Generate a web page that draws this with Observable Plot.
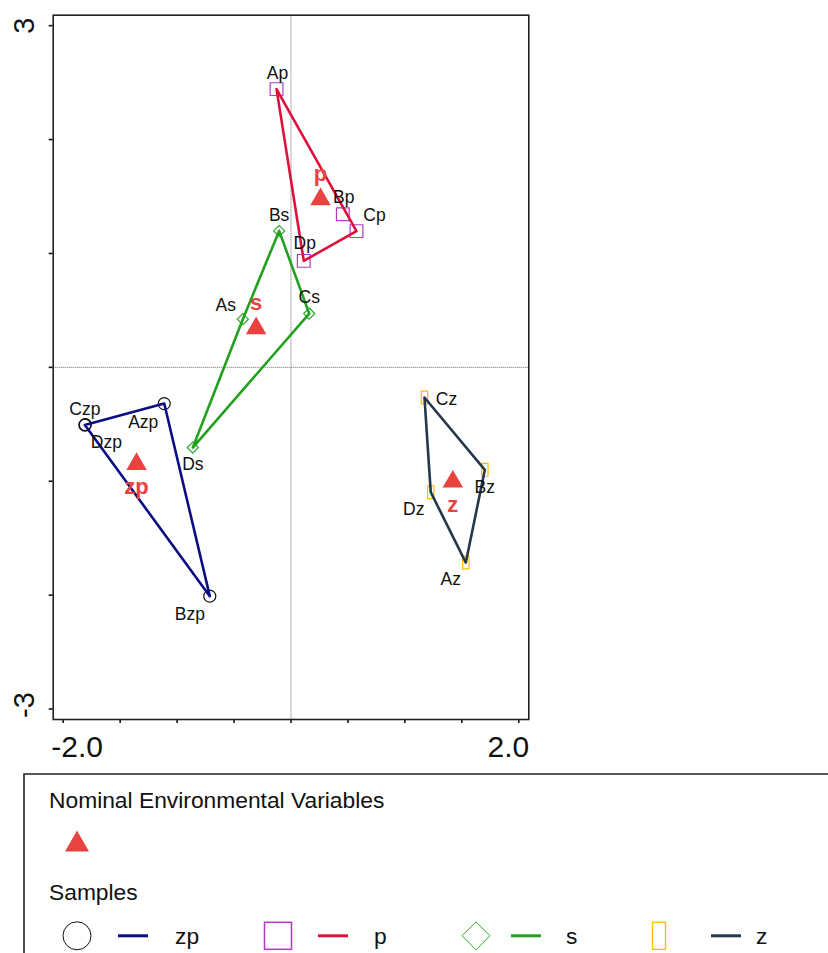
<!DOCTYPE html>
<html>
<head>
<meta charset="utf-8">
<script src="https://cdn.jsdelivr.net/npm/d3@7"></script>
<script src="https://cdn.jsdelivr.net/npm/@observablehq/plot@0.6"></script>
<style>
  html, body { margin: 0; padding: 0; background: #fff; overflow: hidden; }
  #chart svg { display: block; }
  #chart svg g[aria-label*="axis"] path, #chart svg g[aria-label*="axis"] line { stroke-width: 1.6px; }
</style>
</head>
<body>
<div id="chart"></div>
<script>
// ---------------- DATA ----------------
const sampleNames  = ["Azp", "Bzp", "Czp", "Dzp", "Ap", "Bp", "Cp", "Dp", "As", "Bs", "Cs", "Ds", "Az", "Bz", "Cz", "Dz"];
const sampleGroups = ["zp", "zp", "zp", "zp", "p", "p", "p", "p", "s", "s", "s", "s", "z", "z", "z", "z"];
const sampleX = [-1.113, -0.713, -1.810, -1.806, -0.127, 0.455, 0.575, 0.112, -0.423, -0.104, 0.160, -0.862, 1.535, 1.702, 1.172, 1.227];
const sampleY = [-0.318, -2.009, -0.507, -0.503, 2.443, 1.345, 1.196, 0.935, 0.423, 1.198, 0.472, -0.704, -1.714, -0.900, -0.265, -1.096];

// Nominal environmental variables (group centroids)
const groupNames = ["zp", "p", "s", "z"];
const groupX = [-1.356, 0.259, -0.306, 1.421];
const groupY = [-0.849, 1.475, 0.342, -1.004];

// Envelope (hull) connection order per group
const hullOrder = {
  zp: ["Czp", "Azp", "Bzp", "Czp"],
  p:  ["Ap", "Cp", "Dp", "Ap"],
  s:  ["Bs", "Cs", "Ds", "As", "Bs"],
  z:  ["Cz", "Bz", "Az", "Dz", "Cz"]
};

// Axis ticks and labels
const xTicks = [-2, -1.5, -1, -0.5, 0, 0.5, 1, 1.5, 2];
const yTicks = [-3, -2, -1, 0, 1, 2, 3];
const xTickLabelLeft = [-2], xTickLabelRight = [2];
const yTickLabelTop = [3], yTickLabelBottom = [-3];

// Legend texts
const legendTitle1 = "Nominal Environmental Variables";
const legendTitle2 = "Samples";

// ---------------- STYLE ----------------
const FONT = "Arial, 'Liberation Sans', Helvetica, sans-serif";
const RED = "#e8433f";
const tallRect = { draw(ctx, size) { const h = Math.sqrt(size); const w = h * 0.5; ctx.rect(-w / 2, -h / 2, w, h); } };
const groupStyle = {
  zp: { marker: "circle",   r: 6,   markerStroke: "#111111", line: "#0c0c85" },
  p:  { marker: "square",   r: 7.2, markerStroke: "#b23ac4", line: "#e0103c" },
  s:  { marker: "diamond2", r: 5,   markerStroke: "#28a828", line: "#22a11e" },
  z:  { marker: tallRect,   r: 7.2, markerStroke: "#ffbc00", line: "#25384b" }
};
// label offsets (px) relative to each sample point
const labelOffset = {
  Ap: [1, -16], Bp: [1, -17], Cp: [18, -16], Dp: [1, -17],
  As: [-17, -14], Bs: [0, -16], Cs: [0, -16], Ds: [0, 17],
  Azp: [-21, 19], Bzp: [-20, 18], Czp: [0, -16], Dzp: [21, 18],
  Az: [-15, 17], Bz: [0, 18], Cz: [22, 2], Dz: [-17, 17]
};

// ---------------- BUILD ----------------
const samples = sampleNames.map((n, i) => ({ name: n, group: sampleGroups[i], x: sampleX[i], y: sampleY[i] }));
const byName = new Map(samples.map(d => [d.name, d]));
const groupsData = groupNames.map((g, i) => ({ group: g, x: groupX[i], y: groupY[i] }));

const W = 828, H = 770;
const marks = [
  Plot.ruleX([0], { stroke: "#666", strokeWidth: 1, strokeDasharray: "1,1" }),
  Plot.ruleY([0], { stroke: "#666", strokeWidth: 1, strokeDasharray: "1,1" }),
  Plot.frame({ stroke: "#222", strokeWidth: 1.6 })
];
for (const g of groupNames) {
  const st = groupStyle[g];
  marks.push(Plot.dot(samples.filter(d => d.group === g), {
    x: "x", y: "y", r: st.r, symbol: st.marker, fill: "none", stroke: st.markerStroke, strokeWidth: 1.2
  }));
}
for (const g of groupNames) {
  const st = groupStyle[g];
  marks.push(Plot.line(hullOrder[g].map(n => byName.get(n)), {
    x: "x", y: "y", stroke: st.line, strokeWidth: 2.6, strokeLinejoin: "round"
  }));
}
for (const d of samples) {
  const [dx, dy] = labelOffset[d.name];
  marks.push(Plot.text([d], { x: "x", y: "y", text: "name", dx, dy, fontSize: 17.5, fill: "#111" }));
}
marks.push(Plot.dot(groupsData, { x: "x", y: "y", symbol: "triangle", r: 7.6, fill: RED, stroke: "none" }));
marks.push(Plot.text(groupsData.filter(d => d.group === "p" || d.group === "s"), {
  x: "x", y: "y", text: "group", dy: -25, fontSize: 22, fontWeight: "bold", fill: RED
}));
marks.push(Plot.text(groupsData.filter(d => d.group === "zp" || d.group === "z"), {
  x: "x", y: "y", text: "group", dy: 23, fontSize: 22, fontWeight: "bold", fill: RED
}));
// axis end labels
marks.push(Plot.text(xTickLabelLeft, { x: d => d, frameAnchor: "bottom", text: d => d.toFixed(1), textAnchor: "start", lineAnchor: "bottom", dx: -12, dy: 37.7, fontSize: 30, fill: "#111" }));
marks.push(Plot.text(xTickLabelRight, { x: d => d, frameAnchor: "bottom", text: d => d.toFixed(1), textAnchor: "end", lineAnchor: "bottom", dx: 10.5, dy: 37.7, fontSize: 30, fill: "#111" }));
marks.push(Plot.text(yTickLabelTop, { y: d => d, frameAnchor: "left", text: d => String(d), rotate: -90, textAnchor: "middle", lineAnchor: "bottom", dx: -19.4, dy: 0, fontSize: 29, fill: "#111" }));
marks.push(Plot.text(yTickLabelBottom, { y: d => d, frameAnchor: "left", text: d => String(d), rotate: -90, textAnchor: "middle", lineAnchor: "bottom", dx: -19.4, dy: -4, fontSize: 29, fill: "#111" }));

const chart = Plot.plot({
  width: W, height: H,
  marginLeft: 52.7, marginRight: W - 528.3, marginTop: 14.7, marginBottom: H - 719,
  style: { fontFamily: FONT, fontSize: "16px", color: "#111", background: "#fff" },
  x: { domain: [-2.088, 2.088], ticks: xTicks, tickSize: 4, tickFormat: () => "", label: null },
  y: { domain: [-3.092, 3.092], ticks: yTicks, tickSize: 4, tickFormat: () => "", label: null },
  marks
});
document.getElementById("chart").appendChild(chart);

// ---------------- LEGEND ----------------
const LH = 953 - H;
const off = H; // legend svg starts at page y = 770
const lg = d3.create("svg").attr("width", W).attr("height", LH).style("display", "block")
  .style("font-family", FONT);
lg.append("path").attr("d", `M24,${LH + 5} L24,${774 - off} L${W + 5},${774 - off}`)
  .attr("fill", "none").attr("stroke", "#222").attr("stroke-width", 1.6);
lg.append("text").attr("x", 49).attr("y", 808 - off).attr("font-size", 22.8).attr("fill", "#111").text(legendTitle1);
// triangle
lg.append("path").attr("d", `M77,${830.5 - off} L65,${851.5 - off} L89,${851.5 - off} Z`).attr("fill", RED);
lg.append("text").attr("x", 49).attr("y", 900 - off).attr("font-size", 22.8).attr("fill", "#111").text(legendTitle2);

const cy = 935.8 - off;
const legendItems = [
  { g: "zp", sx: 77,  lx: 118, tx: 175 },
  { g: "p",  sx: 278, lx: 318, tx: 374 },
  { g: "s",  sx: 476, lx: 511, tx: 566 },
  { g: "z",  sx: 659, lx: 711, tx: 756 }
];
for (const it of legendItems) {
  const st = groupStyle[it.g];
  if (it.g === "zp") lg.append("circle").attr("cx", it.sx).attr("cy", cy).attr("r", 14).attr("fill", "none").attr("stroke", st.markerStroke).attr("stroke-width", 1);
  if (it.g === "p") lg.append("rect").attr("x", it.sx - 13.5).attr("y", cy - 13.5).attr("width", 27).attr("height", 27).attr("fill", "none").attr("stroke", st.markerStroke).attr("stroke-width", 1.5);
  if (it.g === "s") lg.append("path").attr("d", `M${it.sx},${cy - 14} L${it.sx + 14},${cy} L${it.sx},${cy + 14} L${it.sx - 14},${cy} Z`).attr("fill", "none").attr("stroke", st.markerStroke).attr("stroke-width", 1);
  if (it.g === "z") lg.append("rect").attr("x", it.sx - 6.5).attr("y", cy - 13.5).attr("width", 13).attr("height", 27).attr("fill", "none").attr("stroke", st.markerStroke).attr("stroke-width", 1.3);
  lg.append("line").attr("x1", it.lx).attr("x2", it.lx + 30).attr("y1", cy).attr("y2", cy).attr("stroke", st.line).attr("stroke-width", 3);
  lg.append("text").attr("x", it.tx).attr("y", 943.5 - off).attr("font-size", 22.8).attr("fill", "#111").text(it.g);
}
document.getElementById("chart").appendChild(lg.node());
</script>
</body>
</html>
